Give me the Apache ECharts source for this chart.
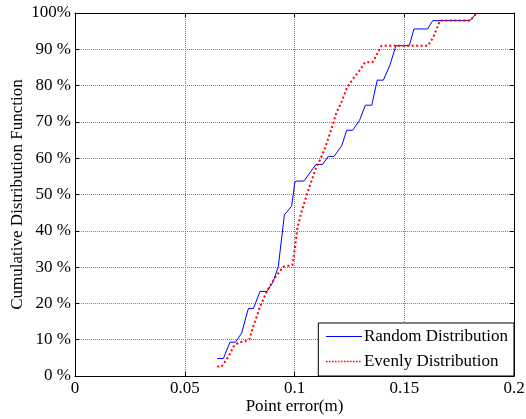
<!DOCTYPE html>
<html>
<head>
<meta charset="utf-8">
<script src="https://cdn.jsdelivr.net/npm/echarts@6/dist/echarts.min.js"></script>
<style>html,body{margin:0;padding:0;background:#fff}#c{width:526px;height:419px}</style>
</head>
<body>
<div id="c"></div>
<script>
// Data (x: point error in m, y: cumulative %)
const randomX = [0.0648,0.0676,0.0706,0.0731,0.0759,0.0790,0.0813,0.0843,0.0875,0.0902,0.0926,0.0954,0.0987,0.1002,0.1013,0.1043,0.1098,0.1128,0.1154,0.1180,0.1215,0.1238,0.1265,0.1296,0.1323,0.1352,0.1377,0.1405,0.1435,0.1462,0.1523,0.1544,0.1606,0.1630,0.1800,0.1830];
const randomY = [4.8,4.8,9.3,9.3,11.8,18.6,18.6,23.3,23.3,25.9,30.1,44.4,46.8,53.5,53.7,53.7,58.3,58.3,60.5,60.5,63.4,67.7,67.7,70.4,74.6,74.6,81.5,81.5,85.7,91.0,91.0,95.6,95.6,97.9,97.9,100];
const evenlyX = [0.0648,0.0668,0.0702,0.0722,0.0744,0.0784,0.0794,0.0812,0.0843,0.0877,0.0919,0.0949,0.0991,0.1002,0.1013,0.1033,0.1063,0.1098,0.1116,0.1139,0.1162,0.1192,0.1215,0.1238,0.1262,0.1298,0.1321,0.1356,0.1397,0.1608,0.1632,0.1663,0.1800,0.1830];
const evenlyY = [2.6,2.6,5.6,8.1,9.2,9.7,10.1,13.6,19.1,23.7,27.8,30.1,30.6,35.3,40.7,45.5,51.2,57.3,59.5,62.8,66.9,72.7,75.6,79.3,81.5,84.3,86.4,86.5,91.0,91.0,93.3,97.9,97.9,100];
const seriesNames = ['Random Distribution','Evenly Distribution'];
const yTicks = [0,10,20,30,40,50,60,70,80,90,100];
const yTickLabels = ['0 %','10 %','20 %','30 %','40 %','50 %','60 %','70 %','80 %','90 %','100%'];
const xTickLabels = ['0','0.05','0.1','0.15','0.2'];

const zip = (xs, ys) => xs.map((x, i) => [x, ys[i]]);
const FONT = 'Liberation Serif';
const chart = echarts.init(document.getElementById('c'));
const baseAxisStyle = {
  axisLine: {show: true, onZero: false, lineStyle: {color: '#000', width: 1}},
  axisTick: {show: true, inside: true, length: 4, lineStyle: {color: '#000'}}
};
chart.setOption({
  animation: false,
  backgroundColor: '#fff',
  textStyle: {fontFamily: FONT},
  grid: {left: 75, right: 12, top: 13, bottom: 43, containLabel: false, outerBoundsMode: 'none'},
  legend: {
    data: [
      {name: seriesNames[0], lineStyle: {width: 1}},
      {name: seriesNames[1], lineStyle: {width: 1.3, type: [1.5, 1.5]}}
    ],
    orient: 'vertical',
    right: 12, bottom: 43,
    itemWidth: 36, itemHeight: 14, itemGap: 8,
    padding: [5, 6, 6, 7],
    backgroundColor: '#fff',
    borderColor: '#000', borderWidth: 1, borderRadius: 0,
    itemStyle: {opacity: 0},
    textStyle: {fontFamily: FONT, fontSize: 17, color: '#000', padding: [0,0,0,-3]},
    z: 10
  },
  xAxis: [{
    type: 'value', min: 0, max: 0.2, interval: 0.05,
    name: 'Point error(m)', nameLocation: 'middle', nameGap: 22, nameMoveOverlap: false,
    nameTextStyle: {fontFamily: FONT, fontSize: 17, color: '#000'},
    ...baseAxisStyle,
    axisLabel: {fontFamily: FONT, fontSize: 17, color: '#000', margin: 4,
      formatter: (v) => xTickLabels[Math.round(v / 0.05)]},
    splitLine: {show: true, lineStyle: {color: '#808080', type: 'dotted', width: 1}}
  }, {
    type: 'value', min: 0, max: 0.2, interval: 0.05, position: 'top',
    ...baseAxisStyle,
    axisLabel: {show: false}, splitLine: {show: false}
  }],
  yAxis: [{
    type: 'value', min: 0, max: 100, interval: 10,
    name: 'Cumulative Distribution Function', nameLocation: 'middle', nameGap: 49, nameMoveOverlap: false,
    nameTextStyle: {fontFamily: FONT, fontSize: 17, color: '#000'},
    ...baseAxisStyle,
    axisLabel: {fontFamily: FONT, fontSize: 17, color: '#000', margin: 4,
      formatter: (v) => yTickLabels[yTicks.indexOf(Math.round(v))]},
    splitLine: {show: true, lineStyle: {color: '#808080', type: 'dotted', width: 1}}
  }, {
    type: 'value', min: 0, max: 100, interval: 10, position: 'right',
    ...baseAxisStyle,
    axisLabel: {show: false}, splitLine: {show: false}
  }],
  series: [{
    name: seriesNames[0], type: 'line', data: zip(randomX, randomY),
    symbol: 'none', showSymbol: false,
    lineStyle: {color: '#0000ff', width: 1}, itemStyle: {color: '#0000ff'}
  }, {
    name: seriesNames[1], type: 'line', data: zip(evenlyX, evenlyY),
    symbol: 'none', showSymbol: false,
    lineStyle: {color: '#ff0000', width: 2, type: [2, 2.5]}, itemStyle: {color: '#ff0000'}
  }]
});
</script>
</body>
</html>
